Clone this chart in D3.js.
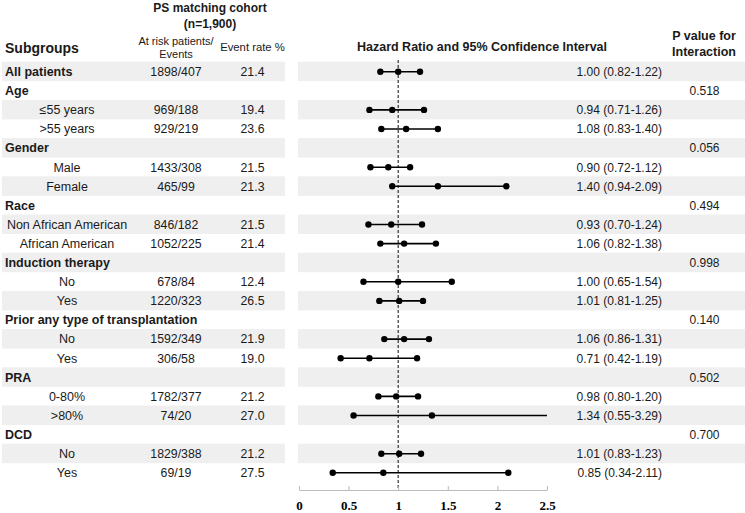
<!DOCTYPE html>
<html>
<head>
<meta charset="utf-8">
<script src="https://cdn.jsdelivr.net/npm/d3@7"></script>
<style>
  html, body { margin: 0; padding: 0; background: #fff; }
  svg { display: block; }
</style>
</head>
<body>
<svg id="chart" width="745" height="513"></svg>
<script>
// ---- data ----
const rowLabels = ["All patients","Age","\u226455 years",">55 years","Gender","Male","Female","Race",
  "Non African American","African American","Induction therapy","No","Yes",
  "Prior any type of transplantation","No","Yes","PRA","0-80%",">80%","DCD","No","Yes"];
const rowIsHeader = [true,true,false,false,true,false,false,true,false,false,true,false,false,
  true,false,false,true,false,false,true,false,false];
const atRiskEvents = ["1898/407","","969/188","929/219","","1433/308","465/99","","846/182","1052/225",
  "","678/84","1220/323","","1592/349","306/58","","1782/377","74/20","","1829/388","69/19"];
const eventRate = ["21.4","","19.4","23.6","","21.5","21.3","","21.5","21.4","","12.4","26.5",
  "","21.9","19.0","","21.2","27.0","","21.2","27.5"];
const hazardRatio = [1.00,null,0.94,1.08,null,0.90,1.40,null,0.93,1.06,null,1.00,1.01,null,1.06,0.71,null,0.98,1.34,null,1.01,0.85];
const ciLower =     [0.82,null,0.71,0.83,null,0.72,0.94,null,0.70,0.82,null,0.65,0.81,null,0.86,0.42,null,0.80,0.55,null,0.83,0.34];
const ciUpper =     [1.22,null,1.26,1.40,null,1.12,2.09,null,1.24,1.38,null,1.54,1.25,null,1.31,1.19,null,1.20,3.29,null,1.23,2.11];
const pInteraction = ["","0.518","","","0.056","","","0.494","","","0.998","","","0.140","","","0.502","","","0.700","",""];
const xTicks = [0,0.5,1,1.5,2,2.5];
const xTickLabels = ["0","0.5","1","1.5","2","2.5"];

// ---- layout ----
const svg = d3.select("#chart");
const sans = "'Liberation Sans', Arial, sans-serif";
const serif = "'Liberation Serif', 'Times New Roman', serif";
const ink = "#1a1a1a";
const x = d3.scaleLinear().domain([0, 2.5]).range([299, 547]);
const y = d3.scaleLinear().domain([0, rowLabels.length - 1]).range([71.7, 472.8]);
const rows = rowLabels.map((d, i) => ({i, label: d}));

// shaded bands
const bands = svg.append("g");
rows.filter(r => r.i % 2 === 0).forEach(r => {
  bands.append("rect").attr("x", 2).attr("y", y(r.i) - 10).attr("width", 283).attr("height", 19.5).attr("fill", "#efefef");
  bands.append("rect").attr("x", 298).attr("y", y(r.i) - 10).attr("width", 447).attr("height", 19.5).attr("fill", "#efefef");
});

// headers
const hdr = svg.append("g").attr("font-family", sans).attr("fill", ink);
hdr.append("text").attr("x", 210).attr("y", 12).attr("text-anchor", "middle").attr("font-weight", "bold").attr("font-size", 12).text("PS matching cohort");
hdr.append("text").attr("x", 210).attr("y", 27.5).attr("text-anchor", "middle").attr("font-weight", "bold").attr("font-size", 12).text("(n=1,900)");
hdr.append("text").attr("x", 5).attr("y", 52.5).attr("font-weight", "bold").attr("font-size", 14).text("Subgroups");
hdr.append("text").attr("x", 176).attr("y", 45).attr("text-anchor", "middle").attr("font-size", 11).text("At risk patients/");
hdr.append("text").attr("x", 176).attr("y", 57.5).attr("text-anchor", "middle").attr("font-size", 11).text("Events");
hdr.append("text").attr("x", 252.5).attr("y", 51).attr("text-anchor", "middle").attr("font-size", 11.3).text("Event rate %");
hdr.append("text").attr("x", 482).attr("y", 50.5).attr("text-anchor", "middle").attr("font-weight", "bold").attr("font-size", 12.5).text("Hazard Ratio and 95% Confidence Interval");
hdr.append("text").attr("x", 704).attr("y", 40).attr("text-anchor", "middle").attr("font-weight", "bold").attr("font-size", 12.5).text("P value for");
hdr.append("text").attr("x", 704).attr("y", 56).attr("text-anchor", "middle").attr("font-weight", "bold").attr("font-size", 12.5).text("Interaction");

// table text
const tbl = svg.append("g").attr("font-family", sans).attr("fill", ink);
rows.forEach(r => {
  const yy = y(r.i) + 4.3;
  if (rowIsHeader[r.i]) {
    tbl.append("text").attr("x", 5).attr("y", yy).attr("font-weight", "bold").attr("font-size", 12.5).text(r.label);
  } else {
    tbl.append("text").attr("x", 67).attr("y", yy).attr("text-anchor", "middle").attr("font-size", 12.5).text(r.label);
  }
  if (atRiskEvents[r.i]) tbl.append("text").attr("x", 176).attr("y", yy).attr("text-anchor", "middle").attr("font-size", 12.3).text(atRiskEvents[r.i]);
  if (eventRate[r.i]) tbl.append("text").attr("x", 252.5).attr("y", yy).attr("text-anchor", "middle").attr("font-size", 12.3).text(eventRate[r.i]);
  if (hazardRatio[r.i] !== null) {
    tbl.append("text").attr("x", 662).attr("y", yy).attr("text-anchor", "end").attr("font-size", 12)
      .text(`${hazardRatio[r.i].toFixed(2)} (${ciLower[r.i].toFixed(2)}-${ciUpper[r.i].toFixed(2)})`);
  }
  if (pInteraction[r.i]) tbl.append("text").attr("x", 704.5).attr("y", yy).attr("text-anchor", "middle").attr("font-size", 12).text(pInteraction[r.i]);
});

// reference line at 1
svg.append("line").attr("x1", x(1)).attr("x2", x(1)).attr("y1", 60).attr("y2", 490)
  .attr("stroke", "#333").attr("stroke-width", 1.2).attr("stroke-dasharray", "3,2");

// forest marks
const maxX = x.domain()[1];
const marks = svg.append("g");
rows.filter(r => hazardRatio[r.i] !== null).forEach(r => {
  const lo = ciLower[r.i], hi = ciUpper[r.i], hr = hazardRatio[r.i];
  const cy = y(r.i);
  marks.append("line").attr("x1", x(lo)).attr("x2", x(Math.min(hi, maxX))).attr("y1", cy).attr("y2", cy)
    .attr("stroke", "#000").attr("stroke-width", 1.6);
  const pts = [lo, hr];
  if (hi <= maxX) pts.push(hi);
  pts.forEach(v => marks.append("circle").attr("cx", x(v)).attr("cy", cy).attr("r", 3.2).attr("fill", "#000"));
});

// x axis
const axis = d3.axisBottom(x).tickValues(xTicks).tickFormat((d, i) => xTickLabels[i])
  .tickSizeInner(-4).tickSizeOuter(0).tickPadding(11);
const ag = svg.append("g").attr("transform", "translate(0,490)").call(axis);
ag.select(".domain").attr("stroke", "#bbb");
ag.selectAll(".tick line").attr("stroke", "#bbb");
ag.selectAll(".tick text").attr("font-family", serif).attr("font-weight", "bold").attr("font-size", 13).attr("fill", "#000");
</script>
</body>
</html>
